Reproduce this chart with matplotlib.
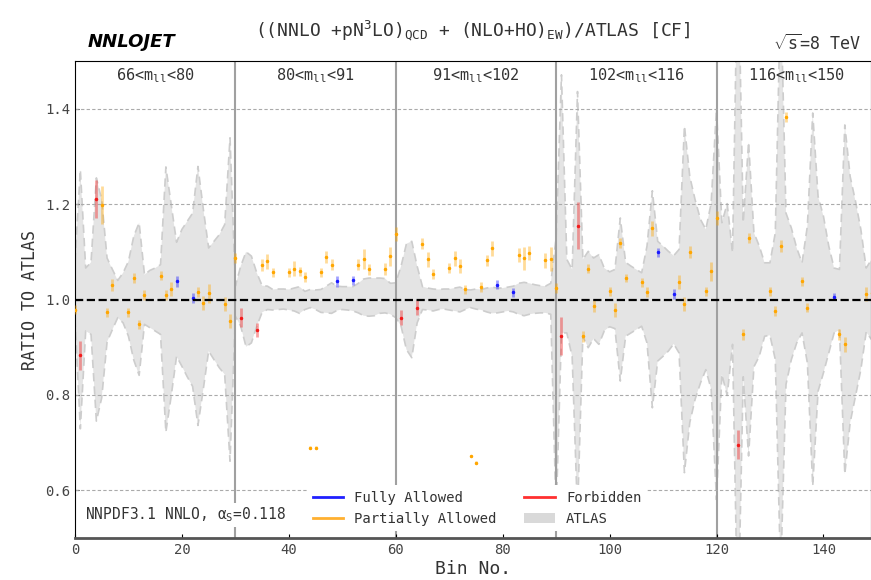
import numpy as np
import matplotlib.pyplot as plt
from matplotlib.patches import Patch
from matplotlib.lines import Line2D

plt.rcParams['font.family'] = ['DejaVu Sans Mono']
plt.rcParams['mathtext.fontset'] = 'custom'
plt.rcParams['mathtext.rm'] = 'DejaVu Sans Mono'
plt.rcParams['mathtext.it'] = 'DejaVu Sans Mono'

mass_labels = ["66<m$_{ll}$<80", "80<m$_{ll}$<91", "91<m$_{ll}$<102",
               "102<m$_{ll}$<116", "116<m$_{ll}$<150"]

# ATLAS uncertainty band (relative), one value per bin 0..149
band_up = [
    1.08, 1.272, 1.066, 1.078, 1.255, 1.209, 1.087, 1.063, 1.040, 1.056,
    1.080, 1.133, 1.161, 1.052, 1.061, 1.066, 1.073, 1.278, 1.199, 1.120,
    1.147, 1.164, 1.181, 1.279, 1.190, 1.108, 1.122, 1.136, 1.157, 1.339,
    1.028, 1.070, 1.100, 1.091, 1.056, 1.029, 1.028, 1.021, 1.022, 1.022,
    1.021, 1.024, 1.027, 1.017, 1.021, 1.020, 1.021, 1.028, 1.035, 1.028,
    1.027, 1.027, 1.027, 1.034, 1.043, 1.045, 1.045, 1.045, 1.044, 1.034,
    1.035, 1.070, 1.117, 1.122, 1.070, 1.027, 1.024, 1.022, 1.021, 1.022,
    1.022, 1.024, 1.026, 1.021, 1.020, 1.022, 1.021, 1.024, 1.026, 1.024,
    1.024, 1.026, 1.028, 1.034, 1.036, 1.034, 1.031, 1.029, 1.028, 1.034,
    1.130, 1.471, 1.084, 1.063, 1.436, 1.084, 1.101, 1.087, 1.094, 1.066,
    1.058, 1.063, 1.171, 1.078, 1.070, 1.063, 1.056, 1.112, 1.228, 1.122,
    1.112, 1.101, 1.092, 1.105, 1.364, 1.258, 1.209, 1.168, 1.147, 1.202,
    1.401, 1.161, 1.201, 1.098, 1.750, 1.161, 1.330, 1.140, 1.112, 1.077,
    1.077, 1.140, 1.650, 1.181, 1.150, 1.108, 1.077, 1.154, 1.391, 1.216,
    1.175, 1.112, 1.066, 1.063, 1.366, 1.258, 1.206, 1.147, 1.066, 1.084,
]
band_lo = [
    0.960, 0.729, 0.934, 0.927, 0.745, 0.794, 0.911, 0.937, 0.962, 0.951,
    0.923, 0.873, 0.841, 0.948, 0.941, 0.934, 0.927, 0.722, 0.798, 0.881,
    0.860, 0.838, 0.818, 0.736, 0.812, 0.892, 0.874, 0.857, 0.843, 0.661,
    0.965, 0.944, 0.901, 0.909, 0.944, 0.973, 0.979, 0.978, 0.979, 0.980,
    0.978, 0.976, 0.971, 0.979, 0.983, 0.979, 0.973, 0.972, 0.971, 0.977,
    0.979, 0.978, 0.976, 0.972, 0.966, 0.965, 0.966, 0.971, 0.972, 0.969,
    0.962, 0.944, 0.895, 0.878, 0.951, 0.979, 0.978, 0.976, 0.979, 0.980,
    0.978, 0.976, 0.974, 0.979, 0.983, 0.980, 0.978, 0.974, 0.971, 0.972,
    0.974, 0.976, 0.974, 0.969, 0.966, 0.969, 0.971, 0.972, 0.972, 0.969,
    0.550, 0.930, 0.930, 0.880, 0.550, 0.923, 0.899, 0.918, 0.906, 0.934,
    0.943, 0.939, 0.829, 0.923, 0.930, 0.937, 0.944, 0.909, 0.773, 0.871,
    0.881, 0.892, 0.907, 0.888, 0.637, 0.742, 0.791, 0.825, 0.853, 0.812,
    0.580, 0.843, 0.799, 0.906, 0.300, 0.838, 0.672, 0.859, 0.881, 0.923,
    0.925, 0.874, 0.420, 0.822, 0.874, 0.909, 0.930, 0.867, 0.609, 0.808,
    0.846, 0.888, 0.930, 0.936, 0.634, 0.742, 0.798, 0.853, 0.932, 0.916,
]

# theory / data ratios
full_bin = [19, 22, 49, 52, 79, 82, 109, 112, 142]
full_val = [1.038, 1.003, 1.038, 1.040, 1.031, 1.015, 1.099, 1.012, 1.006]
full_err = [0.012, 0.010, 0.012, 0.010, 0.010, 0.010, 0.010, 0.010, 0.008]

forb_bin = [1, 4, 31, 34, 61, 64, 91, 94, 124]
forb_val = [0.883, 1.211, 0.962, 0.936, 0.962, 0.983, 0.923, 1.155, 0.696]
forb_err = [0.030, 0.040, 0.020, 0.015, 0.015, 0.015, 0.040, 0.050, 0.030]

part_bin = [0, 5, 6, 7, 10, 11, 12, 13, 16, 17, 18, 23, 24, 25, 28, 29,
            30, 35, 36, 37, 40, 41, 42, 43, 44, 45, 46, 47, 48, 53, 54, 55, 58, 59,
            60, 65, 66, 67, 70, 71, 72, 73, 74, 75, 76, 77, 78, 83, 84, 85, 88, 89,
            90, 95, 96, 97, 100, 101, 102, 103, 106, 107, 108, 113, 114, 115, 118, 119,
            120, 125, 126, 130, 131, 132, 133, 136, 137, 143, 144, 148, 149]
part_val = [0.979, 1.199, 0.973, 1.030, 0.973, 1.045, 0.948, 1.010, 1.050, 1.010,
            1.022, 1.016, 0.992, 1.013, 0.990, 0.955,
            1.087, 1.072, 1.080, 1.057, 1.057, 1.065, 1.059, 1.047, 0.689, 0.689,
            1.057, 1.089, 1.073, 1.073, 1.085, 1.063, 1.064, 1.091,
            1.138, 1.117, 1.084, 1.054, 1.066, 1.086, 1.070, 1.021, 0.672, 0.658,
            1.026, 1.082, 1.107, 1.093, 1.086, 1.098, 1.082, 1.085,
            1.024, 0.923, 1.065, 0.986, 1.017, 0.978, 1.119, 1.045, 1.036, 1.016,
            1.149, 1.037, 0.990, 1.100, 1.017, 1.059,
            1.171, 0.927, 1.129, 1.017, 0.976, 1.112, 1.383, 1.038, 0.983, 0.927,
            0.906, 1.012, 1.014]
part_err = [0.010, 0.040, 0.010, 0.012, 0.010, 0.010, 0.010, 0.010, 0.010, 0.010,
            0.015, 0.010, 0.015, 0.020, 0.015, 0.015,
            0.010, 0.012, 0.015, 0.010, 0.010, 0.015, 0.010, 0.010, 0.003, 0.003,
            0.010, 0.012, 0.012, 0.012, 0.020, 0.012, 0.012, 0.020,
            0.015, 0.012, 0.015, 0.010, 0.010, 0.015, 0.015, 0.010, 0.003, 0.003,
            0.010, 0.012, 0.015, 0.015, 0.025, 0.015, 0.015, 0.025,
            0.010, 0.012, 0.010, 0.012, 0.010, 0.015, 0.010, 0.008, 0.010, 0.010,
            0.015, 0.015, 0.015, 0.012, 0.010, 0.020,
            0.015, 0.012, 0.010, 0.010, 0.010, 0.012, 0.010, 0.010, 0.010, 0.012,
            0.015, 0.015, 0.015]

fig = plt.figure(figsize=(8.71, 5.8), dpi=100)
ax = fig.add_axes([0.0861, 0.0724, 0.9139, 0.8224])

bins = np.arange(len(band_up))
ax.fill_between(bins, band_lo, band_up, color='#e4e4e4', lw=0, zorder=1)
ax.plot(bins, band_up, color='#cdcdcd', ls=(0, (5, 3)), lw=1.2, zorder=1.2)
ax.plot(bins, band_lo, color='#cdcdcd', ls=(0, (5, 3)), lw=1.2, zorder=1.2)

for xv in [30, 60, 90, 120]:
    ax.axvline(xv, color='#a0a0a0', lw=1.5, zorder=1.5)
for yv in [0.6, 0.8, 1.2, 1.4]:
    ax.axhline(yv, color='#aaaaaa', ls=(0, (3, 2)), lw=0.8, zorder=2.5)
ax.axhline(1.0, color='black', ls='--', lw=1.6, zorder=4)

groups = [(full_bin, full_val, full_err, (0.1, 0.1, 1.0)),
          (part_bin, part_val, part_err, (1.0, 0.65, 0.0)),
          (forb_bin, forb_val, forb_err, (0.95, 0.1, 0.1))]
for b, v, e, c in groups:
    ax.errorbar(b, v, yerr=e, fmt='.', ms=3, color=c,
                ecolor=(c[0], c[1], c[2], 0.4), elinewidth=2.0, capsize=0, zorder=3)

for i, lab in enumerate(mass_labels):
    ax.text(15 + 30 * i, 0.97, lab, transform=ax.get_xaxis_transform(),
            ha='center', va='center', fontsize=11, color='#333333')

ax.text(0.013, 0.048, r"NNPDF3.1 NNLO, $\alpha_S$=0.118", transform=ax.transAxes,
        fontsize=10.5, color='#333333', va='center', ha='left', zorder=2,
        bbox=dict(facecolor='white', edgecolor='none', pad=2))

handles = [Line2D([], [], color='#2020ff', lw=2),
           Line2D([], [], color='#ffb030', lw=2),
           Line2D([], [], color='#ff3030', lw=2),
           Patch(facecolor='#d9d9d9', edgecolor='none')]
labels = ["Fully Allowed", "Partially Allowed", "Forbidden", "ATLAS"]
leg = ax.legend(handles, labels, ncol=2, loc='lower center', bbox_to_anchor=(0.505, 0.0),
                fontsize=10, frameon=True, handlelength=2.2, columnspacing=2.0,
                labelcolor='#333333')
leg.get_frame().set_edgecolor('none')
leg.get_frame().set_facecolor('white')
leg.get_frame().set_alpha(1.0)
leg.set_zorder(5)

ax.set_xlim(0, 148.9)
ax.set_ylim(0.5, 1.5)
ax.set_xticks(np.arange(0, 141, 20))
ax.set_yticks([0.6, 0.8, 1.0, 1.2, 1.4])
ax.tick_params(direction='in', length=3, labelsize=10, labelcolor='#444444')
ax.spines['bottom'].set_color('#555555')
ax.spines['bottom'].set_linewidth(2)
ax.set_xlabel("Bin No.", fontsize=13, color='#333333', labelpad=2)
ax.set_ylabel("RATIO TO ATLAS", fontsize=12, color='#333333')

ax.set_title(r"((NNLO +pN$^3$LO)$_{QCD}$ + (NLO+HO)$_{EW}$)/ATLAS [CF]",
             fontsize=13, color='#333333', pad=18)
fig.text(0.101, 0.928, "NNLOJET", fontsize=13, fontweight='bold', style='italic',
         family='DejaVu Sans', va='center', ha='left')
fig.text(0.988, 0.925, r"$\sqrt{s}$=8 TeV", fontsize=12, va='center', ha='right',
         color='#333333')

fig.savefig("out.png", dpi=100)
